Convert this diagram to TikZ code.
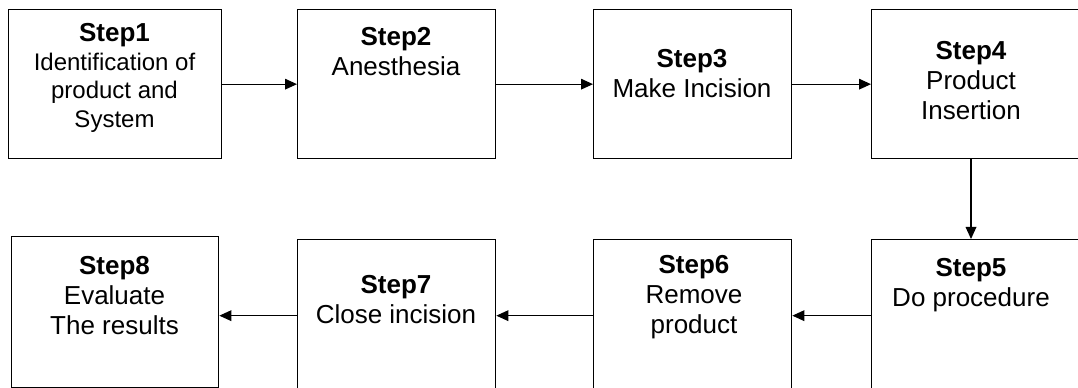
\documentclass[tikz,border=0pt]{standalone}
\usepackage{fontspec}
\setmainfont{Liberation Sans}
\usetikzlibrary{arrows.meta}

\begin{document}
\begin{tikzpicture}
    [x=0.75pt,y=-0.75pt,
     stepbox/.style={draw,line width=1pt,inner sep=0pt,anchor=north west},
     steptext/.style={inner sep=0pt,anchor=north,align=center,font=\fontsize{19.5}{22.5}\selectfont},
     arrow/.style={line width=0.9pt,-{Triangle[length=9pt,width=8pt]}}]
    \useasboundingbox (0,0) rectangle (1078,388);
    \clip (0,0) rectangle (1078,388);
    \node [stepbox,minimum width=159.75pt,minimum height=111.75pt] (s1) at (8,9) {};
    \node [stepbox,minimum width=148.5pt,minimum height=111.75pt] (s2) at (297,9) {};
    \node [stepbox,minimum width=148.5pt,minimum height=111.75pt] (s3) at (593,9) {};
    \node [stepbox,minimum width=172.5pt,minimum height=111.75pt] (s4) at (871,9) {};
    \node [stepbox,minimum width=172.5pt,minimum height=114pt] (s5) at (871,239) {};
    \node [stepbox,minimum width=148.5pt,minimum height=114pt] (s6) at (593,239) {};
    \node [stepbox,minimum width=148.5pt,minimum height=114pt] (s7) at (297,239) {};
    \node [stepbox,minimum width=155.25pt,minimum height=113.25pt] (s8) at (11,236) {};
    \node [steptext,font=\fontsize{18}{21.4}\selectfont] (t1) at (114.5,23.5) {{\fontsize{19.5}{21.4}\selectfont\textbf{Step1}}\\Identification of\\product and\\System};
    \node [steptext] (t2) at (396,27.5) {\textbf{Step2}\\Anesthesia};
    \node [steptext] (t3) at (692,49.5) {\textbf{Step3}\\Make Incision};
    \node [steptext] (t4) at (971,41.5) {\textbf{Step4}\\Product\\Insertion};
    \node [steptext] (t5) at (971,258.5) {\textbf{Step5}\\Do procedure};
    \node [steptext] (t6) at (694,255.5) {\textbf{Step6}\\Remove\\product};
    \node [steptext] (t7) at (396,275.5) {\textbf{Step7}\\Close incision};
    \node [steptext] (t8) at (114.5,256.5) {\textbf{Step8}\\Evaluate\\The results};
    \draw[arrow] (s1.east)--(s2.west);
    \draw[arrow] (s2.east)--(s3.west);
    \draw[arrow] (s3.east)--(s4.west);
    \draw[arrow] (s4.south -| t4)--(s5.north -| t4);
    \draw[arrow] (s5.west)--(s6.east);
    \draw[arrow] (s6.west)--(s7.east);
    \draw[arrow] (s7.west)--(s7.west -| s8.east);
  \end{tikzpicture}
\end{document}
